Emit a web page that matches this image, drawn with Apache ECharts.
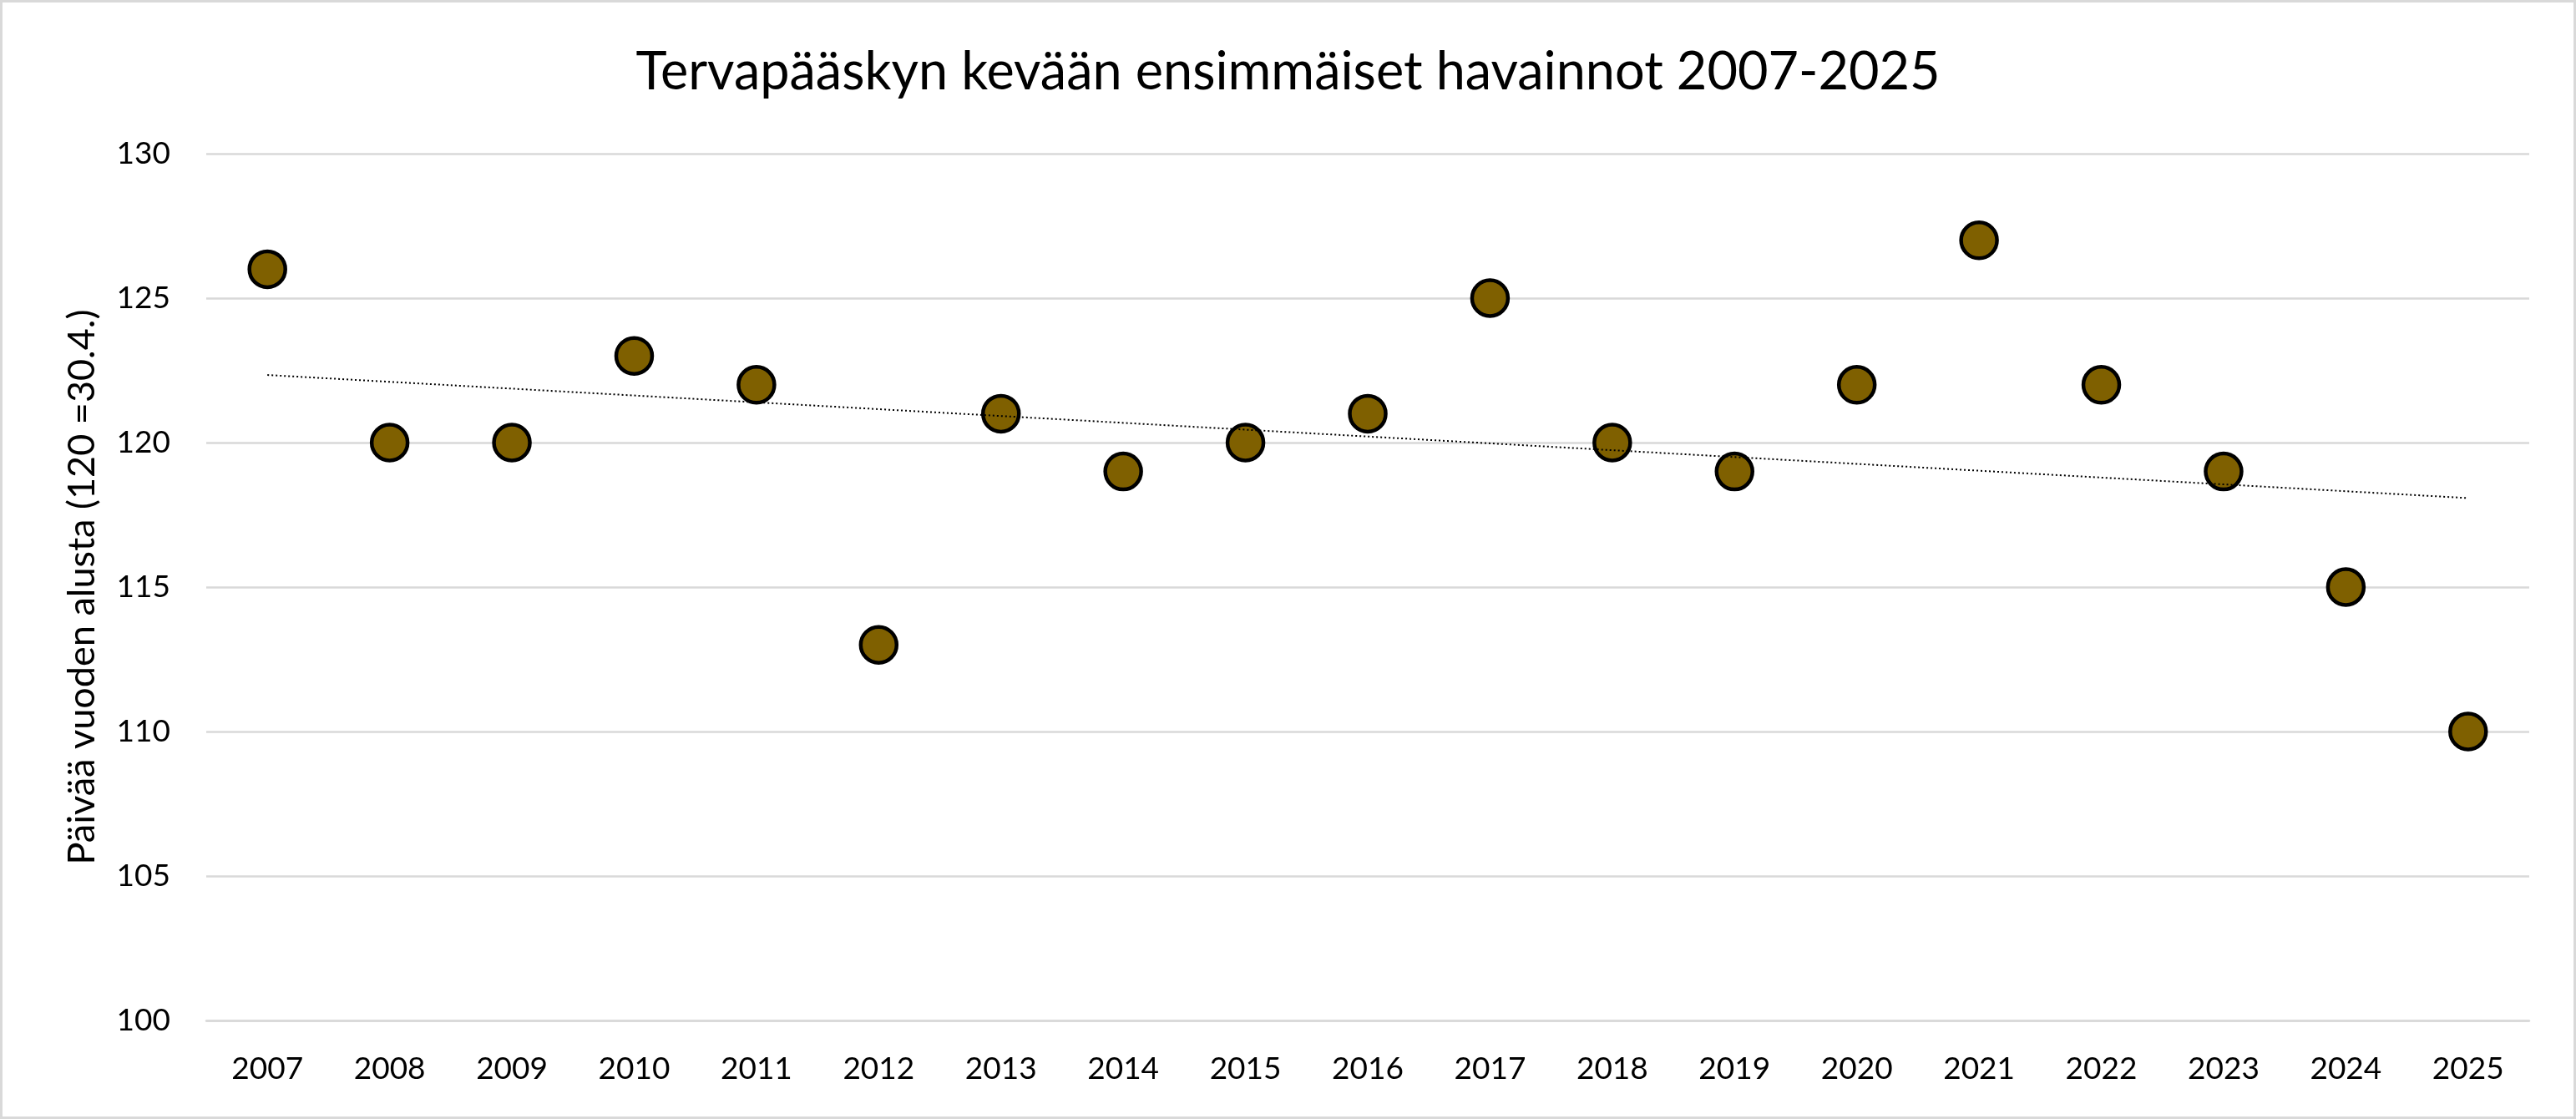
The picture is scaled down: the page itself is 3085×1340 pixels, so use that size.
<!DOCTYPE html>
<html>
<head>
<meta charset="utf-8">
<script src="https://cdn.jsdelivr.net/npm/echarts@6/dist/echarts.min.js"></script>
<style>
html,body{margin:0;padding:0;background:#fff;}
#c{width:3085px;height:1340px;box-sizing:border-box;border:3px solid #d9d9d9;}
</style>
</head>
<body>
<div id="c"></div>
<script>
const years = ['2007','2008','2009','2010','2011','2012','2013','2014','2015','2016','2017','2018','2019','2020','2021','2022','2023','2024','2025'];
const firstSighting = [126,120,120,123,122,113,121,119,120,121,125,120,119,122,127,122,119,115,110];
const trendYears = ['2007','2025'];
const trendValues = [122.34, 118.08];
const yTicks = [100,105,110,115,120,125,130];

const chart = echarts.init(document.getElementById('c'));
const font = 'Lato';
chart.setOption({
  backgroundColor:'#fff',
  animation:false,
  title:{
    text:'Tervapääskyn kevään ensimmäiset havainnot 2007-2025',
    left:'center', top:47,
    textStyle:{fontFamily:font,fontSize:63,fontWeight:'normal',color:'#000'}
  },
  grid:{left:244,right:53,top:181,bottom:115,containLabel:false},
  xAxis:{
    type:'category', data:years, boundaryGap:true,
    axisLine:{show:true,lineStyle:{color:'#d9d9d9',width:2.5}},
    axisTick:{show:false},
    axisLabel:{fontFamily:font,fontSize:37,color:'#000',margin:40},
    splitLine:{show:false}
  },
  yAxis:{
    type:'value', min:yTicks[0], max:yTicks[yTicks.length-1], interval:5,
    name:'Päivää vuoden alusta (120 =30.4.)', nameLocation:'middle', nameGap:126,
    nameTextStyle:{fontFamily:font,fontSize:45,color:'#000'},
    axisLine:{show:false}, axisTick:{show:false},
    axisLabel:{fontFamily:font,fontSize:37,color:'#000',margin:43},
    splitLine:{lineStyle:{color:'#d9d9d9',width:2.5}}
  },
  series:[
    {
      type:'scatter', data:firstSighting, symbol:'circle', symbolSize:43, z:2,
      itemStyle:{color:'#7f6000',opacity:1,borderColor:'#000',borderWidth:4.5}
    },
    {
      type:'line', data:trendYears.map((y,i)=>[y,trendValues[i]]), symbol:'none', z:3,
      lineStyle:{color:'#000',width:2,type:[2,3]}
    }
  ]
});
</script>
</body>
</html>
